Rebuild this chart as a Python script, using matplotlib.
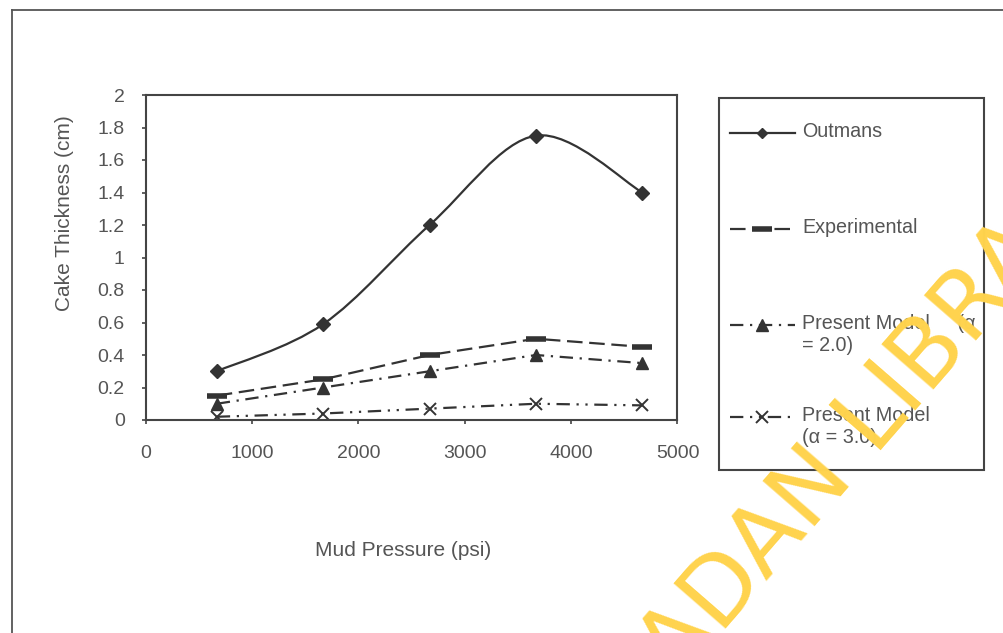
import numpy as np
import matplotlib.pyplot as plt
from matplotlib.path import Path
from matplotlib.patches import PathPatch, Rectangle
from matplotlib.lines import Line2D

plt.rcParams['font.family'] = ['Liberation Sans', 'DejaVu Sans']

# mud pressure (psi) and cake thickness (cm)
pressure = [670, 1670, 2670, 3670, 4670]
outmans = [0.30, 0.59, 1.20, 1.75, 1.40]
experimental = [0.15, 0.25, 0.40, 0.50, 0.45]
model_a2 = [0.10, 0.20, 0.30, 0.40, 0.35]
model_a3 = [0.02, 0.04, 0.07, 0.10, 0.09]

xticks = [0, 1000, 2000, 3000, 4000, 5000]
yticks = [0, 0.2, 0.4, 0.6, 0.8, 1, 1.2, 1.4, 1.6, 1.8, 2]
ytick_labels = ['0', '0.2', '0.4', '0.6', '0.8', '1', '1.2', '1.4', '1.6', '1.8', '2']

legend_labels = ['Outmans', 'Experimental', 'Present Model     (\u03b1\n= 2.0)',
                 'Present Model\n(\u03b1 = 3.0)']

W, H = 1004, 633
line_col = '#333333'
text_col = '#555555'


def fx(x):
    return x / W


def fy(y):
    return 1 - y / H


def smooth_path(xs, ys, k=1/6.0):
    # cubic bezier through the points, like a spreadsheet "smoothed line"
    pts = np.column_stack([xs, ys]).astype(float)
    n = len(pts)
    verts = [pts[0]]
    codes = [Path.MOVETO]
    for i in range(n - 1):
        p0 = pts[i - 1] if i > 0 else pts[i]
        p1 = pts[i]
        p2 = pts[i + 1]
        p3 = pts[i + 2] if i + 2 < n else pts[i + 1]
        c1 = p1 + (p2 - p0) * k
        c2 = p2 - (p3 - p1) * k
        verts += [c1, c2, p2]
        codes += [Path.CURVE4] * 3
    return Path(verts, codes)


fig = plt.figure(figsize=(W / 100, H / 100), dpi=100)

# outer frame
fig.add_artist(Line2D([fx(12), fx(1010)], [fy(10), fy(10)], color='#555555', lw=1.3))
fig.add_artist(Line2D([fx(12), fx(12)], [fy(10), fy(640)], color='#555555', lw=1.3))

ax = fig.add_axes([fx(145.5), fy(420), (677.5 - 145.5) / W, (420 - 95) / H])

ax.add_patch(PathPatch(smooth_path(pressure, outmans), fill=False,
                       edgecolor=line_col, lw=1.6))
ax.plot(pressure, outmans, ls='none', marker='D', ms=7, color=line_col)

styles = [
    dict(dashes=(7, 3), marker='_', ms=14, mew=4),
    dict(dashes=(6, 3, 1, 3), marker='^', ms=8),
    dict(dashes=(6, 3, 1, 3, 1, 3), marker='x', ms=9, mew=1.4),
]
for ys, st in zip([experimental, model_a2, model_a3], styles):
    ax.plot(pressure, ys, color=line_col, lw=1.6, **st)

ax.set_xlim(0, 5000)
ax.set_ylim(0, 2)
ax.set_xticks(xticks)
ax.set_xticklabels([str(t) for t in xticks])
ax.set_yticks(yticks)
ax.set_yticklabels(ytick_labels)
ax.tick_params(axis='y', direction='out', length=3, width=1.2, pad=12,
               labelsize=14, labelcolor=text_col, color='#444444')
ax.tick_params(axis='x', direction='out', length=3, width=1.2, pad=15,
               labelsize=14, labelcolor=text_col, color='#444444')
for sp in ax.spines.values():
    sp.set_color('#444444')
    sp.set_linewidth(1.5)

fig.text(fx(65), fy(213), 'Cake Thickness (cm)', rotation=90, ha='center',
         va='center', fontsize=15, color=text_col)
fig.text(fx(403), fy(551), 'Mud Pressure (psi)', ha='center', va='center',
         fontsize=15, color=text_col)

# legend box drawn by hand
fig.add_artist(Rectangle((fx(719), fy(470)), (984 - 719) / W, (470 - 98) / H,
                         transform=fig.transFigure, fill=False,
                         edgecolor='#444444', lw=1.5))
leg_y = [133, 229, 325, 417]
leg_styles = [dict(ls='-', marker='D', ms=5)] + styles
for y, lab, st in zip(leg_y, legend_labels, leg_styles):
    fig.add_artist(Line2D([fx(730), fx(762), fx(795)], [fy(y)] * 3,
                          color=line_col, lw=1.6, markevery=[1], **st))
    fig.text(fx(802), fy(y - 11), lab, ha='left', va='top', fontsize=14.2,
             color=text_col, linespacing=1.2)

# library watermark, placed so the "D" of IBADAN is centred at (718, 585)
wm_text = 'IBADAN LIBRARY'
wm_size = 68
wm_angle = 49
wm_kw = dict(fontsize=wm_size, family=['DejaVu Sans'])
renderer = fig.canvas.get_renderer()
probe = [fig.text(0, 0, s, **wm_kw) for s in ('IBA', 'IBAD')]
w_a, w_b = [p.get_window_extent(renderer).width for p in probe]
cap = wm_size * 0.73 * fig.dpi / 72
for p in probe:
    p.remove()
th = np.radians(wm_angle)
d = np.array([np.cos(th), np.sin(th)])
n = np.array([-np.sin(th), np.cos(th)])
centre = np.array([718.0, H - 585.0])
start = centre - 0.5 * (w_a + w_b) * d - 0.5 * cap * n
fig.text(start[0] / W, start[1] / H, wm_text, rotation=wm_angle,
         rotation_mode='anchor', ha='left', va='baseline', color='#ffd34d',
         zorder=10, **wm_kw)

fig.savefig('out.png', dpi=100)
